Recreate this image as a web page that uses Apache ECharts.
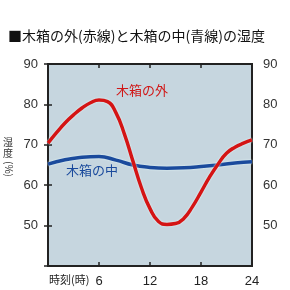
<!DOCTYPE html>
<html lang="ja">
<head>
<meta charset="UTF-8">
<title>木箱の湿度</title>
<script src="https://cdn.jsdelivr.net/npm/echarts@6/dist/echarts.min.js"></script>
<style>
  html, body { margin: 0; padding: 0; background: #fff; }
  #chart { width: 290px; height: 290px; }
</style>
</head>
<body>
<div id="chart"></div>
<script>
// 時刻(時) と 湿度(%)
var hoursOut = [0, 1, 2, 3, 4, 5, 6, 7, 8, 9, 10, 11, 12, 13, 14, 15, 16, 17, 18, 19, 20, 21, 22, 23, 24];
var outside  = [70.4, 73.0, 75.4, 77.4, 79.1, 80.4, 81.1, 80.7, 77.9, 72.6, 65.9, 59.3, 54.2, 51.0, 50.3, 50.5, 51.8, 54.7, 58.3, 62.0, 65.2, 67.9, 69.4, 70.4, 71.2];
var hoursIn  = [0, 2, 4, 6, 8, 10, 12, 14, 16, 18, 20, 22, 24];
var inside   = [65.2, 66.3, 66.9, 67.1, 66.2, 65.0, 64.4, 64.2, 64.3, 64.6, 65.0, 65.5, 65.8];

var xTicks = [6, 12, 18, 24];
var yTicks = [50, 60, 70, 80, 90];

var jp = '"Noto Sans CJK JP", sans-serif';
var num = '"Liberation Sans", Arial, sans-serif';

function pairs(xs, ys) {
    var out = [];
    for (var i = 0; i < xs.length; i++) {
        out.push([xs[i], ys[i]]);
    }
    return out;
}

function yAxisOf(pos) {
    return {
        type: 'value', position: pos, min: 40, max: 90, interval: 10,
        axisLine: { show: true, lineStyle: { color: '#222', width: 2 } },
        axisTick: { show: true, inside: true, length: 4, lineStyle: { color: '#222', width: 1.5 } },
        splitLine: { show: false },
        axisLabel: {
            margin: pos == 'left' ? 10 : 11,
            fontFamily: num, fontSize: 13, color: '#333',
            formatter: function (v) { return yTicks.indexOf(v) >= 0 ? String(v) : ''; }
        }
    };
}

var chart = echarts.init(document.getElementById('chart'));
chart.setOption({
    animation: false,
    title: {
        text: '■木箱の外(赤線)と木箱の中(青線)の湿度',
        left: 3, top: 24,
        textStyle: { fontFamily: jp, fontSize: 14, fontWeight: 'normal', color: '#111' }
    },
    grid: {
        left: 48, right: 38, top: 64, bottom: 24,
        show: true, backgroundColor: '#c6d6df', borderColor: '#222', borderWidth: 2
    },
    xAxis: [{
        type: 'value', min: 0, max: 24, interval: 6,
        axisLine: { show: true, lineStyle: { color: '#222', width: 2 } },
        axisTick: { show: true, inside: true, length: 4, lineStyle: { color: '#222', width: 1.5 } },
        splitLine: { show: false },
        axisLabel: {
            margin: 9, fontFamily: num, fontSize: 13, color: '#222',
            formatter: function (v) { return xTicks.indexOf(v) >= 0 ? String(v) : ''; }
        }
    }, {
        type: 'value', position: 'top', min: 0, max: 24, interval: 6,
        axisLine: { show: true, lineStyle: { color: '#222', width: 2 } },
        axisTick: { show: true, inside: true, length: 4, lineStyle: { color: '#222', width: 1.5 } },
        splitLine: { show: false },
        axisLabel: { show: false }
    }],
    yAxis: [yAxisOf('left'), yAxisOf('right')],
    graphic: [
        { type: 'text', left: 49, top: 274,
          style: { text: '時刻(時)', font: '11px ' + jp, fill: '#222' } },
        { type: 'text', left: 3, top: 137,
          style: { text: '湿\n度', font: '10px ' + jp, fill: '#333', lineHeight: 11 } },
        { type: 'text', x: 14, y: 161, rotation: -Math.PI / 2,
          style: { text: '(%)', font: '10px ' + jp, fill: '#333' } },
        { type: 'text', left: 116, top: 84,
          style: { text: '木箱の外', font: '13px ' + jp, fill: '#d01818' } },
        { type: 'text', left: 66, top: 164,
          style: { text: '木箱の中', font: '13px ' + jp, fill: '#1a4a9c' } }
    ],
    series: [{
        name: '木箱の中', type: 'line', smooth: 0.5, showSymbol: false,
        data: pairs(hoursIn, inside),
        lineStyle: { color: '#1a4a9c', width: 3.5, shadowColor: '#eaffff', shadowBlur: 2 }
    }, {
        name: '木箱の外', type: 'line', smooth: 0.5, showSymbol: false,
        data: pairs(hoursOut, outside),
        lineStyle: { color: '#d41414', width: 3.5, shadowColor: '#eaffff', shadowBlur: 2 }
    }]
});
</script>
</body>
</html>
